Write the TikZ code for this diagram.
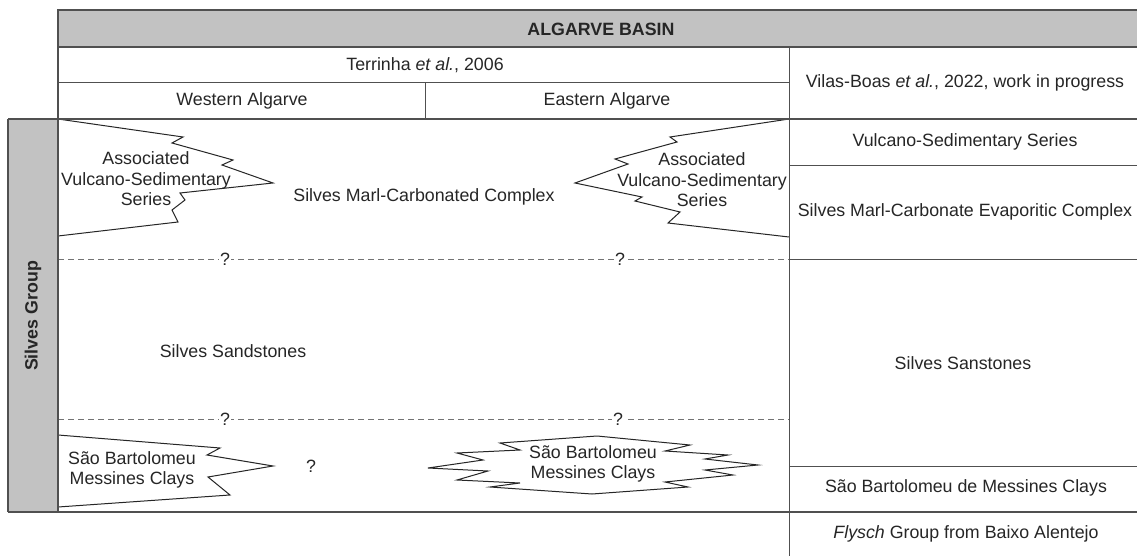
\documentclass[tikz,border=0pt]{standalone}
\usepackage{fontspec}
\setmainfont{Liberation Sans}
\begin{document}
\begin{tikzpicture}[x=1pt,y=-1pt,
  line/.style={draw=linecol,line width=1.3pt},
  thin/.style={draw=linecol,line width=1pt},
  dashline/.style={draw=linecol!80,line width=1pt,dash pattern=on 6pt off 4pt},
  txt/.style={font=\fontsize{17.8}{20.5}\selectfont,text=black!85,inner sep=0pt,align=center},
  btxt/.style={txt,font=\fontsize{17.8}{20.5}\selectfont\bfseries},
  qm/.style={txt,fill=white,inner xsep=1pt},
  tooth/.style={draw=black!85,line width=1pt,fill=white,line join=miter}]
\definecolor{linecol}{RGB}{80,80,80}
\definecolor{barcol}{RGB}{194,194,194}
\useasboundingbox (0,0) rectangle (1137,556);
\fill[white] (0,0) rectangle (1137,556);
% gray bars
\fill[barcol] (58,10) rectangle (1137,47);
\fill[barcol] (8,119) rectangle (58,512);
% tooth shapes
\draw[tooth] (58,119) -- (183,137) -- (172,143) -- (233,160) -- (222,165) -- (273,183) -- (180,193) -- (185,200) -- (172,210) -- (178,222) -- (58,236);
\draw[tooth] (789,119) -- (670,137) -- (677,142) -- (615,159) -- (628,164) -- (575,183) -- (642,197) -- (635,201) -- (680,212) -- (668,223) -- (789,237);
\draw[tooth] (58,435) -- (220,448) -- (207,455) -- (273,466) -- (208,477) -- (230,495) -- (58,507);
\draw[tooth] (597,436) -- (690,445) -- (665,451) -- (728,455) -- (705,459) -- (758,465) -- (705,470) -- (733,475) -- (665,482) -- (688,487) -- (592,494) -- (490,487) -- (520,483) -- (457,480) -- (488,471) -- (428,468) -- (483,460) -- (457,453) -- (520,450) -- (500,443) -- cycle;
% dashed lines
\draw[dashline] (58,259) -- (789,259);
\draw[dashline] (58,419) -- (789,419);
% table lines
\draw[line] (1137,10) -- (58,10) -- (58,119);
\draw[line] (58,47) -- (1137,47);
\draw[thin] (58,83) -- (789,83);
\draw[thin] (425,83) -- (425,119);
\draw[line] (8,119) -- (1137,119);
\draw[line] (8,119) -- (8,512);
\draw[line] (58,119) -- (58,512);
\draw[line] (8,512) -- (1137,512);
\draw[thin] (789,47) -- (789,556);
\draw[thin] (789,166) -- (1137,166);
\draw[thin] (789,259) -- (1137,259);
\draw[thin] (789,466) -- (1137,466);
% texts
\node[btxt] (basin) at (601,29) {ALGARVE BASIN};
\node[txt] (terr) at (425,65) {Terrinha \textit{et al.}, 2006};
\node[txt] (west) at (242,101) {Western Algarve};
\node[txt] (east) at (607,101) {Eastern Algarve};
\node[txt] (vilas) at (965,83) {Vilas-Boas \textit{et al.}, 2022, work in progress};
\node[btxt,rotate=90] (group) at (33,316) {Silves Group};
\node[txt] (assocL) at (146,179) {Associated\\Vulcano-Sedimentary\\Series};
\node[txt] (assocR) at (702,180) {Associated\\Vulcano-Sedimentary\\Series};
\node[txt] (marl) at (424,197) {Silves Marl-Carbonated Complex};
\node[txt] (sand) at (233,351) {Silves Sandstones};
\node[txt] (sbL) at (132,470) {São Bartolomeu\\Messines Clays};
\node[txt] (qL) at (311,466) {?};
\node[txt] (sbM) at (593,464) {São Bartolomeu\\Messines Clays};
\node[qm] (q1) at (225,259) {?};
\node[qm] (q2) at (620,259) {?};
\node[qm] (q3) at (225,419) {?};
\node[qm] (q4) at (618,419) {?};
\node[txt] (rvs) at (965,142) {Vulcano-Sedimentary Series};
\node[txt] (rmarl) at (965,212) {Silves Marl-Carbonate Evaporitic Complex};
\node[txt] (rsand) at (963,363) {Silves Sanstones};
\node[txt] (rsb) at (966,488) {São Bartolomeu de Messines Clays};
\node[txt] (rfly) at (966,534) {\textit{Flysch} Group from Baixo Alentejo};
\end{tikzpicture}
\end{document}
